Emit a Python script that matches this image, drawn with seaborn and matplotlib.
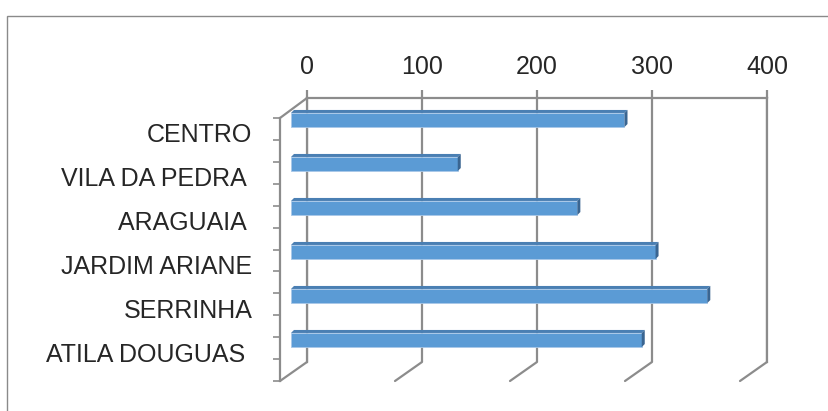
import numpy as np
import pandas as pd
import matplotlib
matplotlib.use("Agg")
import matplotlib.pyplot as plt
import seaborn as sns
from matplotlib.patches import Polygon, Rectangle, ConnectionPatch
from matplotlib.transforms import IdentityTransform, ScaledTranslation

# ---- data ----
categories = ["CENTRO", "VILA DA PEDRA ", "ARAGUAIA ", "JARDIM ARIANE", "SERRINHA", "ATILA DOUGUAS "]
values = [290, 145, 249, 317, 362, 305]
x_ticks = [0, 100, 200, 300, 400]

df = pd.DataFrame({"bairro": categories, "valor": values})

sns.set_theme(style="white")
plt.rcParams["font.family"] = ["Liberation Sans", "DejaVu Sans"]

W, H = 829, 411
fig = plt.figure(figsize=(W / 100, H / 100), dpi=100)
fig.patch.set_facecolor("white")

def rect(l, t, r, b):
    return [l / W, 1 - b / H, (r - l) / W, (b - t) / H]

grid_c = "#8c8c8c"
text_c = "#262626"
bar_c = "#5B9BD5"

# outer frame
fig.add_artist(Rectangle((6.5, -50), 1000, 411 - 15.5 + 50, transform=IdentityTransform(),
                         fill=False, edgecolor="#8a8a8a", lw=1.0))

# back wall
ax_wall = fig.add_axes(rect(307, 98, 767, 362))
ax_wall.set_xlim(0, 400)
ax_wall.set_ylim(5.5, -0.5)
ax_wall.set_xticks(x_ticks)
ax_wall.set_xticklabels([str(v) for v in x_ticks])
ax_wall.xaxis.tick_top()
ax_wall.set_yticks([])
ax_wall.grid(axis="x", color=grid_c, lw=1.6)
ax_wall.tick_params(axis="x", top=True, bottom=False, length=6, width=1.6, color=grid_c,
                    labelsize=18, labelcolor=text_c, pad=8)
for s in ["bottom"]:
    ax_wall.spines[s].set_visible(False)
for s in ["top", "left", "right"]:
    ax_wall.spines[s].set_color(grid_c)
    ax_wall.spines[s].set_linewidth(1.6)
ax_wall.patch.set_alpha(0)

# front plane (category axis)
ax_front = fig.add_axes(rect(280, 118, 740, 381))
ax_front.set_xlim(0, 400)
ax_front.set_ylim(5.5, -0.5)
ax_front.set_xticks([])
ax_front.set_yticks(range(len(categories)))
ax_front.set_yticklabels(categories)
ax_front.set_yticks(np.arange(-0.5, len(categories), 1.0), minor=True)
ax_front.tick_params(axis="y", which="both", left=True, length=5, width=1.2, color=grid_c,
                     labelsize=18, labelcolor=text_c, pad=15)
for s in ["top", "right", "bottom"]:
    ax_front.spines[s].set_visible(False)
ax_front.spines["left"].set_color(grid_c)
ax_front.spines["left"].set_linewidth(1.6)
ax_front.patch.set_alpha(0)
for lab in ax_front.get_yticklabels():
    lab.set_transform(lab.get_transform() + ScaledTranslation(0, 7 / 100, fig.dpi_scale_trans))

# floor diagonals and top-left diagonal
for v in x_ticks:
    cp = ConnectionPatch(xyA=(v, 0), coordsA=ax_front.get_xaxis_transform(),
                         xyB=(v, 0), coordsB=ax_wall.get_xaxis_transform(),
                         color=grid_c, lw=1.6)
    fig.add_artist(cp)
fig.add_artist(ConnectionPatch(xyA=(0, 1), coordsA=ax_front.transAxes,
                               xyB=(0, 1), coordsB=ax_wall.transAxes,
                               color=grid_c, lw=1.6))

# bars
ax_bars = fig.add_axes(rect(291, 98, 751, 362))
sns.barplot(data=df, x="valor", y="bairro", ax=ax_bars, orient="h", color=bar_c,
            width=0.32, saturation=1, edgecolor="#a9c8e8", linewidth=0.6)
ax_bars.set_xlim(0, 400)
ax_bars.set_ylim(5.5, -0.5)
ax_bars.axis("off")
ax_bars.patch.set_alpha(0)

d = 3
for p in ax_bars.patches:
    x0, y0 = p.get_x(), p.get_y()
    x1, y1 = x0 + p.get_width(), y0 + p.get_height()
    (X0, Ya), (X1, Yb) = ax_bars.transData.transform([(x0, y0), (x1, y1)])
    Yt, Ybot = max(Ya, Yb), min(Ya, Yb)
    top = Polygon([(X0, Yt), (X0 + d, Yt + d), (X1 + d, Yt + d), (X1, Yt)],
                  closed=True, transform=IdentityTransform(), facecolor="#4a7fb3",
                  edgecolor="none", zorder=5)
    side = Polygon([(X1, Yt), (X1 + d, Yt + d), (X1 + d, Ybot + d), (X1, Ybot)],
                   closed=True, transform=IdentityTransform(), facecolor="#3a6591",
                   edgecolor="none", zorder=5)
    fig.add_artist(top)
    fig.add_artist(side)

fig.savefig("out.png", dpi=100)
